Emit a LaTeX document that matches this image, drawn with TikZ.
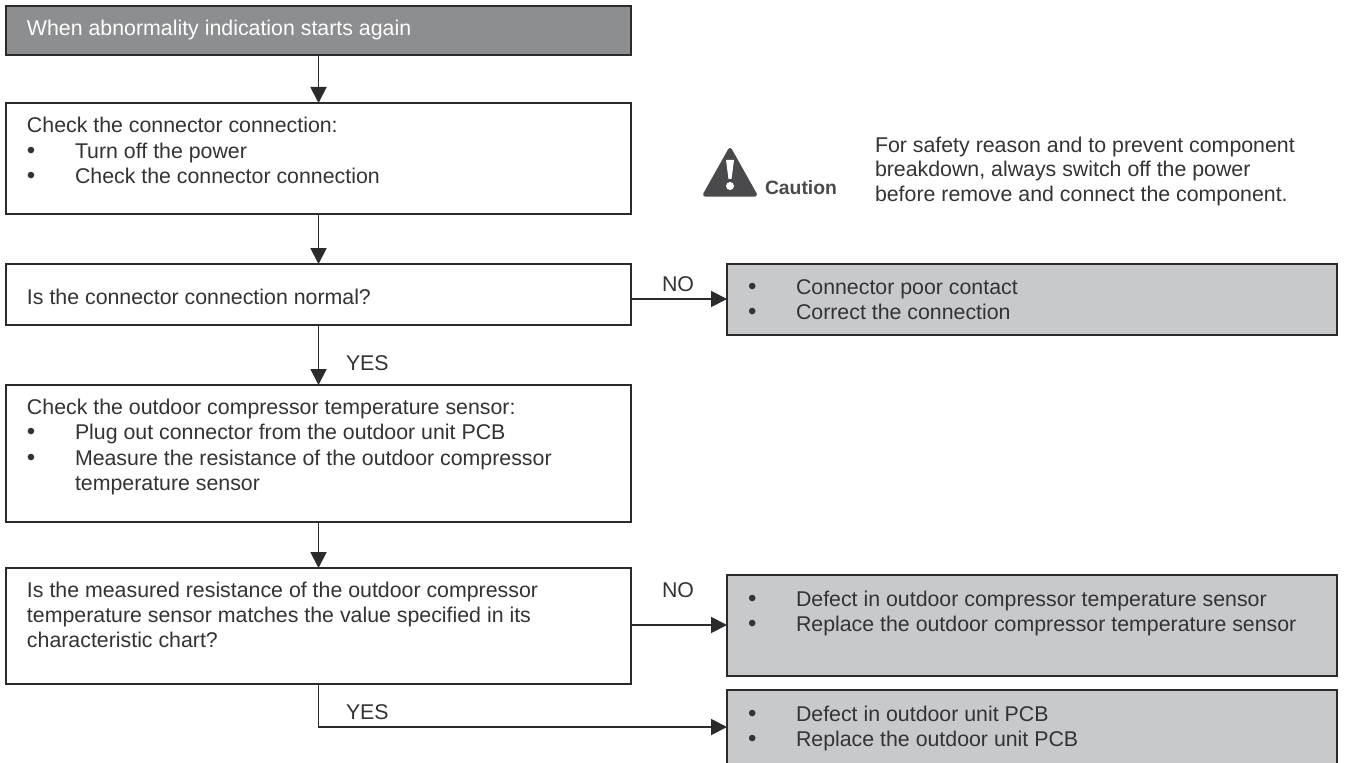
\documentclass[tikz,border=0pt]{standalone}
\usepackage{fontspec}
\setmainfont{Liberation Sans}
\usetikzlibrary{arrows.meta}
\definecolor{ink}{HTML}{2B2B2D}
\definecolor{txt}{HTML}{333335}
\definecolor{darkbox}{HTML}{8C8E90}
\definecolor{lightbox}{HTML}{C8C9CB}
\definecolor{warn}{HTML}{4A4A4C}
\newlength{\pxu}\setlength{\pxu}{0.75pt}
\newcommand{\fl}[1]{\noindent\rule{0pt}{#1\pxu}}
\newcommand{\ind}{\hspace*{21\pxu}}
\newcommand{\bu}{\ind\makebox[48\pxu][l]{\fontsize{18pt}{19.1pt}\selectfont •}}
\newcommand{\bl}[1]{\par\noindent\bu #1}
\newcommand{\cnt}[1]{\par\noindent\hspace*{69\pxu}#1}
% [style]{name}{x}{y}{w}{h}{body}
\newcommand{\bx}[7][plainbox]{\node[#1,anchor=north west] (#2) at (#3,#4) {\parbox[c][#6\pxu][t]{#5\pxu}{\fontsize{16pt}{19.1pt}\selectfont\color{txt}#7}};}
\tikzset{
  every node/.style={inner sep=0pt,outer sep=0pt},
  basebox/.style={draw=ink,line width=1.5pt},
  plainbox/.style={basebox,fill=white},
  greybox/.style={basebox,fill=lightbox},
  darkhead/.style={basebox,fill=darkbox},
  conn/.style={draw=ink,line width=1.4pt,-{Triangle[length=12pt,width=12pt]}},
  flag/.style={anchor=base west,text=txt,font=\fontsize{16pt}{19pt}\selectfont},
}
\begin{document}
\begin{tikzpicture}[x=0.75pt,y=-0.75pt]
\useasboundingbox (0,0) rectangle (1345,763);
\bx[darkhead]{top}{6}{6}{625}{49}{\fl{30}\ind\color{white}When abnormality indication starts again}
\bx{chk}{6}{103}{625}{111}{\fl{30}\ind Check the connector connection:\bl{Turn off the power}\bl{Check the connector connection}}
\bx{isconn}{6}{264}{625}{61}{\fl{40}\ind Is the connector connection normal?}
\bx{sensor}{6}{385}{625}{137}{\fl{29.5}\ind Check the outdoor compressor temperature sensor:\bl{Plug out connector from the outdoor unit PCB}\bl{Measure the resistance of the outdoor compressor}\cnt{temperature sensor}}
\bx{ismeas}{6}{568}{625}{116}{\fl{29}\ind Is the measured resistance of the outdoor compressor\par\noindent\ind temperature sensor matches the value specified in its\par\noindent\ind characteristic chart?}
\bx[greybox]{poor}{727}{264}{610}{71}{\fl{30}\bu Connector poor contact\bl{Correct the connection}}
\bx[greybox]{defsens}{727}{575}{610}{101}{\fl{31}\bu Defect in outdoor compressor temperature sensor\bl{Replace the outdoor compressor temperature sensor}}
\bx[greybox]{defpcb}{727}{690}{610}{90}{\fl{31}\bu Defect in outdoor unit PCB\bl{Replace the outdoor unit PCB}}
% connectors
\path[conn] (top.south) -- (chk.north);
\path[conn] (chk.south) -- (isconn.north);
\path[conn] (isconn.south) -- (sensor.north);
\path[conn] (sensor.south) -- (ismeas.north);
\coordinate (noA) at (631,299);
\path[conn] (noA) -- (noA -| poor.west);
\coordinate (noB) at (631,625);
\path[conn] (noB) -- (noB -| defsens.west);
\coordinate (yesB) at (318.5,727);
\path[conn] (ismeas.south) -- (yesB) -- (yesB -| defpcb.west);
% branch labels
\node[flag] (no1) at (662,291) {NO};
\node[flag] (yes1) at (346,370) {YES};
\node[flag] (no2) at (662,597) {NO};
\node[flag] (yes2) at (346,719) {YES};
% caution
\fill[warn,draw=warn,line width=3pt,line join=round] (705,194.5) -- (730,150) -- (755,194.5) -- cycle;
\fill[white] (726,160) -- (734,160) -- (731.5,179) -- (728.5,179) -- cycle;
\fill[white] (730,186) circle (4);
\node[anchor=base west,text=warn,font=\bfseries\fontsize{14.5pt}{17pt}\selectfont] (cau) at (765,195) {Caution};
\node[anchor=base west,align=left,text=txt,font=\fontsize{16pt}{18.3pt}\selectfont] (safety) at (875,201) {For safety reason and to prevent component\\breakdown, always switch off the power\\before remove and connect the component.};
\end{tikzpicture}
\end{document}
